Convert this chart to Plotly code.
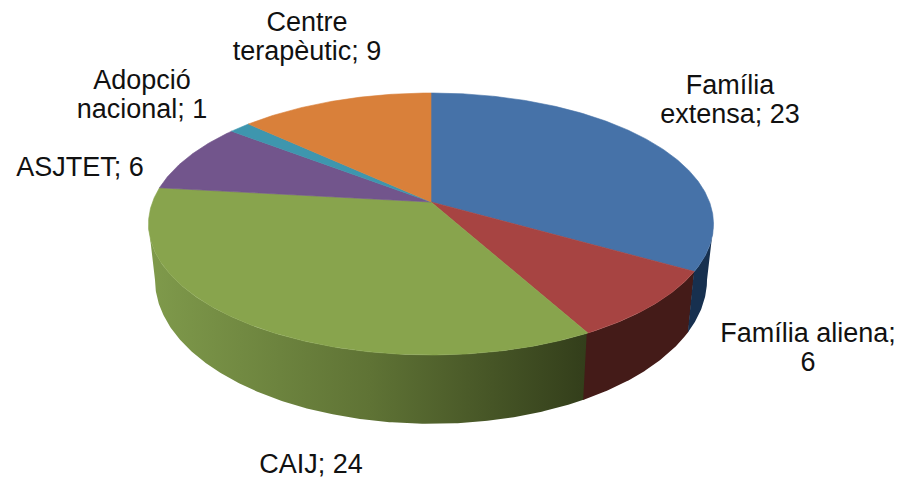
import numpy as np
import plotly.graph_objects as go

categories = ["Família extensa", "Família aliena", "CAIJ", "ASJTET", "Adopció nacional", "Centre terapèutic"]
values = [23, 6, 24, 6, 1, 9]
top_colors = ["#4672A8", "#A74442", "#88A44D", "#72558C", "#3E96AE", "#D9803A"]
side_colors = ["#17304F", "#441B18", None, None, None, None]
green_side_scale = [[0, "#7F9A4B"], [0.5, "#5F7335"], [1, "#323D1A"]]

label_lines = [
    ["Família", "extensa; 23"],
    ["Família aliena;", "6"],
    ["CAIJ; 24"],
    ["ASJTET; 6"],
    ["Adopció", "nacional; 1"],
    ["Centre", "terapèutic; 9"],
]
label_centers = [(730, 87), (808, 335), (311, 466), (80, 169), (142, 82), (307, 24)]
LINE_STEP = 29.5
FONT_SIZE = 27

CX, CY, A, B, K = 431.0, 202.0, 278.5, 127.3, 0.168
SX, SY, BOTTOM_CY = 0.977, 1.10, 255.5
TANGENT = np.arccos(-K)  # rim angle at which the projected disc is widest


def rim(theta, lower=False):
    u, v = np.sin(theta), np.cos(theta)
    d = 1 + K * v
    px, py = A * u / d, -B * v / d
    if lower:
        return CX + SX * px, BOTTOM_CY + SY * py
    return CX + px, CY + py


def arc(a0, a1):
    n = max(int(abs(a1 - a0) * 120), 8)
    return np.linspace(a0, a1, n)


angles = np.concatenate([[0], np.cumsum(values)]) / sum(values) * 2 * np.pi

fig = go.Figure()

# Side walls: only the visible front part, from tangent to tangent
for i in [2, 1, 0]:
    a0 = max(angles[i], TANGENT)
    a1 = min(angles[i + 1], 2 * np.pi - TANGENT)
    if i < 2:
        a1 += 0.004  # slight overlap so no seam shows between walls
    t = arc(a0, a1)
    xt, yt = rim(t)
    xb, yb = rim(t[::-1], lower=True)
    trace = dict(
        x=np.concatenate([xt, xb]).tolist(),
        y=np.concatenate([yt, yb]).tolist(),
        mode="lines",
        line=dict(width=0),
        fill="toself",
        hoverinfo="skip",
        showlegend=False,
    )
    if side_colors[i]:
        trace["fillcolor"] = side_colors[i]
    else:
        trace["fillgradient"] = dict(
            type="horizontal", colorscale=green_side_scale, start=150, stop=590
        )
    fig.add_trace(go.Scatter(**trace))

# Top faces
for i, name in enumerate(categories):
    t = arc(angles[i], angles[i + 1])
    xt, yt = rim(t)
    fig.add_trace(go.Scatter(
        x=[CX] + xt.tolist() + [CX],
        y=[CY] + yt.tolist() + [CY],
        mode="lines",
        line=dict(width=0.6, color=top_colors[i]),
        fill="toself",
        fillcolor=top_colors[i],
        name=name,
        text=f"{name}; {values[i]}",
        hoverinfo="text",
        showlegend=False,
    ))

# Data labels
label_x, label_y, label_text = [], [], []
for lines, (lx, ly) in zip(label_lines, label_centers):
    for j, line in enumerate(lines):
        label_x.append(lx)
        label_y.append(ly + j * LINE_STEP)
        label_text.append(line)
fig.add_trace(go.Scatter(
    x=label_x, y=label_y, text=label_text, mode="text",
    textposition="middle center",
    textfont=dict(family="Liberation Sans, Arial, sans-serif", size=FONT_SIZE, color="#111111"),
    cliponaxis=False, hoverinfo="skip", showlegend=False,
))

fig.update_layout(
    width=898, height=479,
    margin=dict(l=0, r=0, t=0, b=0),
    paper_bgcolor="white", plot_bgcolor="white",
    xaxis=dict(range=[0, 898], visible=False, fixedrange=True),
    yaxis=dict(range=[479, 0], visible=False, fixedrange=True),
)
fig.write_html(
    "out.html",
    config={"displayModeBar": False},
    post_script="document.body.style.margin='0';document.body.style.overflow='hidden';",
)
